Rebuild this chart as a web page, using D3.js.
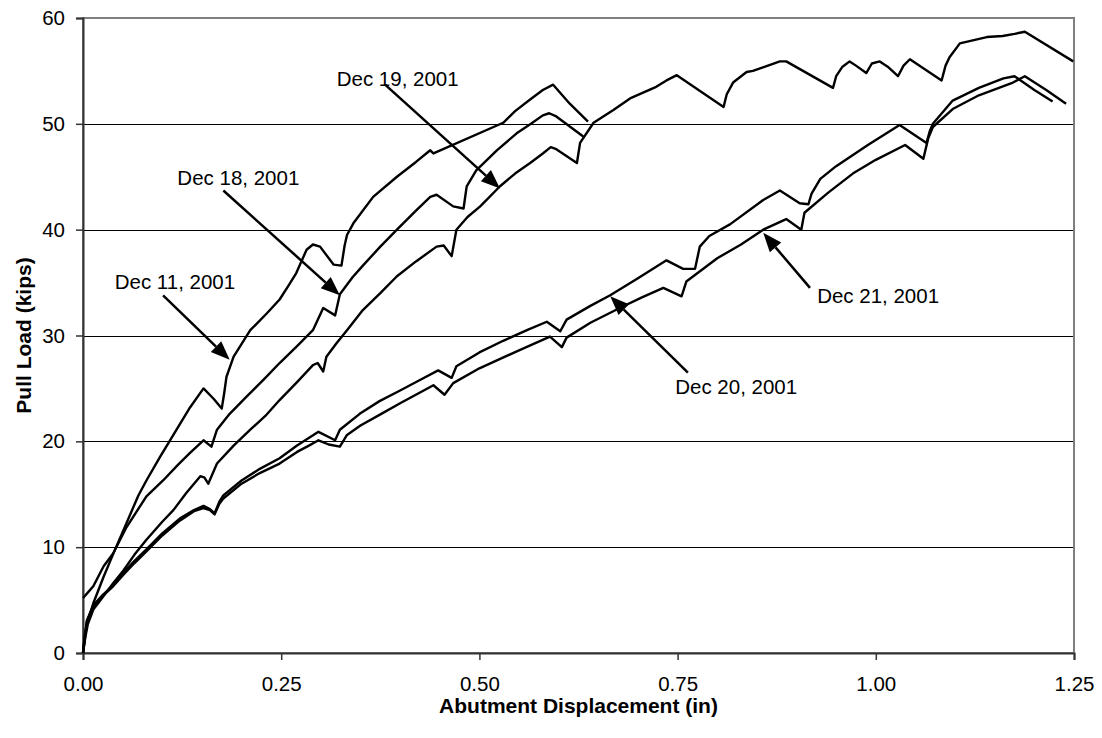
<!DOCTYPE html>
<html>
<head>
<meta charset="utf-8">
<script src="https://cdn.jsdelivr.net/npm/d3@7/dist/d3.min.js"></script>
<style>
  body { margin: 0; background: #fff; }
  text { font-family: "Liberation Sans", Arial, sans-serif; fill: #000; }
</style>
</head>
<body>
<div id="chart"></div>
<script>
// displacement (in) / load (kips) readings for each test day
var dec11X = [0, 0.002, 0.005, 0.013, 0.026, 0.040, 0.051, 0.059, 0.070, 0.080, 0.097, 0.118, 0.135, 0.152, 0.165, 0.175, 0.178, 0.181, 0.190, 0.211, 0.232, 0.248, 0.260, 0.269, 0.282, 0.290, 0.299, 0.316, 0.326, 0.330, 0.333, 0.341, 0.366, 0.396, 0.420, 0.438, 0.442, 0.530, 0.545, 0.564, 0.580, 0.593, 0.614, 0.637];
var dec11Y = [0, 1.2, 2.8, 4.7, 7.2, 9.7, 11.6, 13.0, 14.9, 16.3, 18.5, 21.1, 23.2, 25.0, 24.0, 23.1, 24.5, 26.1, 28.0, 30.5, 32.1, 33.4, 34.8, 35.9, 38.1, 38.6, 38.4, 36.7, 36.6, 38.5, 39.5, 40.6, 43.1, 45.0, 46.4, 47.5, 47.2, 50.1, 51.2, 52.3, 53.2, 53.7, 51.9, 50.2];

var dec18X = [0, 0.006, 0.013, 0.026, 0.038, 0.055, 0.080, 0.101, 0.120, 0.135, 0.152, 0.162, 0.169, 0.185, 0.206, 0.230, 0.248, 0.270, 0.290, 0.303, 0.318, 0.324, 0.340, 0.353, 0.375, 0.396, 0.420, 0.438, 0.446, 0.467, 0.480, 0.484, 0.496, 0.522, 0.547, 0.565, 0.580, 0.588, 0.597, 0.631];
var dec18Y = [5.2, 5.7, 6.3, 8.2, 9.4, 11.9, 14.8, 16.3, 17.8, 18.9, 20.1, 19.5, 21.1, 22.6, 24.2, 26.0, 27.4, 29.0, 30.5, 32.6, 31.9, 33.9, 35.5, 36.6, 38.4, 40.0, 41.8, 43.1, 43.3, 42.2, 42.0, 44.1, 45.6, 47.5, 49.1, 50.0, 50.8, 51.0, 50.7, 48.8];

var dec19X = [0, 0.003, 0.006, 0.013, 0.025, 0.038, 0.051, 0.065, 0.080, 0.100, 0.114, 0.130, 0.148, 0.153, 0.158, 0.169, 0.190, 0.211, 0.230, 0.248, 0.270, 0.290, 0.296, 0.303, 0.307, 0.320, 0.333, 0.353, 0.375, 0.396, 0.420, 0.446, 0.455, 0.465, 0.471, 0.485, 0.501, 0.526, 0.545, 0.564, 0.580, 0.590, 0.597, 0.623, 0.627, 0.644, 0.669, 0.690, 0.723, 0.736, 0.749, 0.808, 0.812, 0.820, 0.837, 0.845, 0.879, 0.887, 0.946, 0.950, 0.958, 0.967, 0.975, 0.988, 0.995, 1.005, 1.015, 1.028, 1.035, 1.043, 1.083, 1.088, 1.093, 1.106, 1.140, 1.160, 1.175, 1.188, 1.249];
var dec19Y = [0, 1.5, 2.7, 4.1, 5.3, 6.6, 7.8, 9.3, 10.7, 12.4, 13.5, 15.1, 16.7, 16.6, 16.0, 17.9, 19.6, 21.1, 22.4, 23.9, 25.6, 27.2, 27.4, 26.6, 28.0, 29.3, 30.5, 32.4, 34.0, 35.6, 37.0, 38.4, 38.5, 37.5, 40.0, 41.2, 42.2, 44.1, 45.3, 46.3, 47.2, 47.8, 47.6, 46.3, 48.2, 50.1, 51.3, 52.4, 53.5, 54.1, 54.6, 51.6, 52.8, 53.9, 54.9, 55.0, 55.9, 55.9, 53.4, 54.5, 55.4, 55.9, 55.5, 54.8, 55.7, 55.9, 55.4, 54.5, 55.5, 56.1, 54.1, 55.5, 56.3, 57.6, 58.2, 58.3, 58.5, 58.7, 55.9];

var dec20X = [0, 0.002, 0.005, 0.013, 0.025, 0.038, 0.051, 0.065, 0.080, 0.100, 0.122, 0.140, 0.152, 0.160, 0.166, 0.172, 0.177, 0.200, 0.223, 0.248, 0.270, 0.297, 0.318, 0.324, 0.349, 0.374, 0.400, 0.425, 0.448, 0.465, 0.471, 0.500, 0.530, 0.560, 0.585, 0.602, 0.610, 0.640, 0.665, 0.700, 0.736, 0.757, 0.772, 0.778, 0.790, 0.816, 0.858, 0.879, 0.904, 0.915, 0.919, 0.930, 0.950, 0.990, 1.030, 1.064, 1.068, 1.072, 1.097, 1.130, 1.161, 1.175, 1.200, 1.223];
var dec20Y = [0, 1.5, 3.1, 4.5, 5.5, 6.4, 7.6, 8.7, 9.8, 11.3, 12.7, 13.5, 13.9, 13.6, 13.2, 14.3, 14.9, 16.3, 17.4, 18.4, 19.6, 20.9, 20.1, 21.1, 22.6, 23.8, 24.8, 25.8, 26.7, 26.0, 27.1, 28.4, 29.5, 30.5, 31.3, 30.4, 31.5, 32.8, 33.8, 35.4, 37.1, 36.3, 36.3, 38.4, 39.4, 40.5, 42.8, 43.7, 42.5, 42.4, 43.4, 44.8, 46.0, 48.0, 49.9, 48.2, 49.3, 50.0, 52.2, 53.4, 54.3, 54.5, 53.2, 52.1];

var dec21X = [0, 0.002, 0.005, 0.013, 0.025, 0.038, 0.051, 0.065, 0.080, 0.100, 0.122, 0.140, 0.152, 0.160, 0.166, 0.172, 0.177, 0.200, 0.223, 0.248, 0.270, 0.285, 0.297, 0.310, 0.324, 0.333, 0.350, 0.374, 0.400, 0.442, 0.456, 0.467, 0.500, 0.550, 0.589, 0.604, 0.610, 0.640, 0.677, 0.705, 0.732, 0.755, 0.761, 0.800, 0.830, 0.858, 0.887, 0.906, 0.910, 0.940, 0.971, 1.000, 1.037, 1.060, 1.066, 1.072, 1.097, 1.130, 1.173, 1.188, 1.215, 1.240];
var dec21Y = [0, 1.3, 3.0, 4.4, 5.4, 6.3, 7.4, 8.5, 9.6, 11.1, 12.5, 13.4, 13.7, 13.5, 13.1, 14.1, 14.6, 16.0, 17.0, 17.9, 19.0, 19.6, 20.1, 19.7, 19.5, 20.6, 21.5, 22.5, 23.6, 25.3, 24.4, 25.5, 26.9, 28.6, 29.9, 28.9, 29.8, 31.2, 32.6, 33.6, 34.5, 33.7, 35.1, 37.3, 38.6, 40.0, 41.0, 40.0, 41.6, 43.5, 45.3, 46.6, 48.0, 46.7, 48.6, 49.7, 51.4, 52.7, 53.9, 54.5, 53.2, 51.9];

var xTicks = [0, 0.25, 0.5, 0.75, 1.0, 1.25];
var yTicks = [0, 10, 20, 30, 40, 50, 60];

// callouts: label, text anchor point, arrow tail, arrow head (data units)
var labels = ["Dec 11, 2001", "Dec 18, 2001", "Dec 19, 2001", "Dec 20, 2001", "Dec 21, 2001"];
var labelPos = [[0.040, 34.4], [0.119, 44.2], [0.320, 53.6], [0.747, 24.5], [0.926, 33.1]];
var arrowTail = [[0.101, 33.8], [0.177, 43.7], [0.381, 53.7], [0.763, 26.5], [0.917, 34.5]];
var arrowHead = [[0.185, 27.7], [0.324, 33.8], [0.526, 43.9], [0.665, 33.7], [0.858, 39.7]];

var series = [[dec11X, dec11Y], [dec18X, dec18Y], [dec19X, dec19Y], [dec20X, dec20Y], [dec21X, dec21Y]];

var margin = { top: 18, right: 28, bottom: 85, left: 83 },
    width = 1102 - margin.left - margin.right,
    height = 738 - margin.top - margin.bottom;

var x = d3.scaleLinear().domain([0, 1.25]).range([0, width]);
var y = d3.scaleLinear().domain([0, 60]).range([height, 0]);

var svg = d3.select("#chart").append("svg")
    .attr("width", 1102)
    .attr("height", 738)
    .append("g")
    .attr("transform", "translate(" + margin.left + "," + margin.top + ")");

// gridlines
svg.selectAll(".grid")
    .data(yTicks.slice(1, -1))
    .enter().append("line")
    .attr("x1", 0).attr("x2", width)
    .attr("y1", function (d) { return Math.round(y(d)) + 0.5; })
    .attr("y2", function (d) { return Math.round(y(d)) + 0.5; })
    .attr("stroke", "#000")
    .attr("stroke-width", 1);

// plot area frame
svg.append("rect")
    .attr("width", width).attr("height", height)
    .attr("fill", "none")
    .attr("stroke", "#808080")
    .attr("stroke-width", 2);

// axes
var xAxis = svg.append("g")
    .attr("transform", "translate(0," + height + ")")
    .call(d3.axisBottom(x).tickValues(xTicks).tickFormat(d3.format(".2f")).tickSize(7).tickPadding(16));
var yAxis = svg.append("g")
    .call(d3.axisLeft(y).tickValues(yTicks).tickFormat(d3.format("d")).tickSize(7).tickPadding(11));

[xAxis, yAxis].forEach(function (a) {
    a.select(".domain").attr("stroke", "#333").attr("stroke-width", 2);
    a.selectAll(".tick line").attr("stroke", "#333").attr("stroke-width", 1.5);
    a.selectAll(".tick text")
        .style("font-family", "'Liberation Sans', Arial, sans-serif")
        .style("font-size", "20.5px")
        .attr("fill", "#000");
});

// curves
var line = d3.line()
    .x(function (d) { return x(d[0]); })
    .y(function (d) { return y(d[1]); });

svg.selectAll(".curve")
    .data(series.map(function (s) { return s[0].map(function (v, i) { return [v, s[1][i]]; }); }))
    .enter().append("path")
    .attr("class", "curve")
    .attr("d", line)
    .attr("fill", "none")
    .attr("stroke", "#000")
    .attr("stroke-width", 2.4)
    .attr("stroke-linejoin", "round");

// callout arrows
labels.forEach(function (lab, i) {
    var x1 = x(arrowTail[i][0]), y1 = y(arrowTail[i][1]);
    var x2 = x(arrowHead[i][0]), y2 = y(arrowHead[i][1]);
    var ang = Math.atan2(y2 - y1, x2 - x1);
    var len = 19, half = 7.5;
    var bx = x2 - len * Math.cos(ang), by = y2 - len * Math.sin(ang);
    svg.append("line")
        .attr("x1", x1).attr("y1", y1)
        .attr("x2", bx).attr("y2", by)
        .attr("stroke", "#000").attr("stroke-width", 2.5);
    svg.append("path")
        .attr("d", "M" + x2 + "," + y2 +
            "L" + (bx + half * Math.sin(ang)) + "," + (by - half * Math.cos(ang)) +
            "L" + (bx - half * Math.sin(ang)) + "," + (by + half * Math.cos(ang)) + "Z")
        .attr("fill", "#000");
    svg.append("text")
        .attr("x", x(labelPos[i][0]))
        .attr("y", y(labelPos[i][1]))
        .style("font-size", "20.5px")
        .text(lab);
});

// axis titles
svg.append("text")
    .attr("x", width / 2)
    .attr("y", height + 60)
    .attr("text-anchor", "middle")
    .style("font-size", "21px")
    .style("font-weight", "bold")
    .text("Abutment Displacement (in)");

svg.append("text")
    .attr("transform", "translate(" + (31 - margin.left) + "," + (height / 2) + ") rotate(-90)")
    .attr("text-anchor", "middle")
    .style("font-size", "21px")
    .style("font-weight", "bold")
    .text("Pull Load (kips)");
</script>
</body>
</html>
